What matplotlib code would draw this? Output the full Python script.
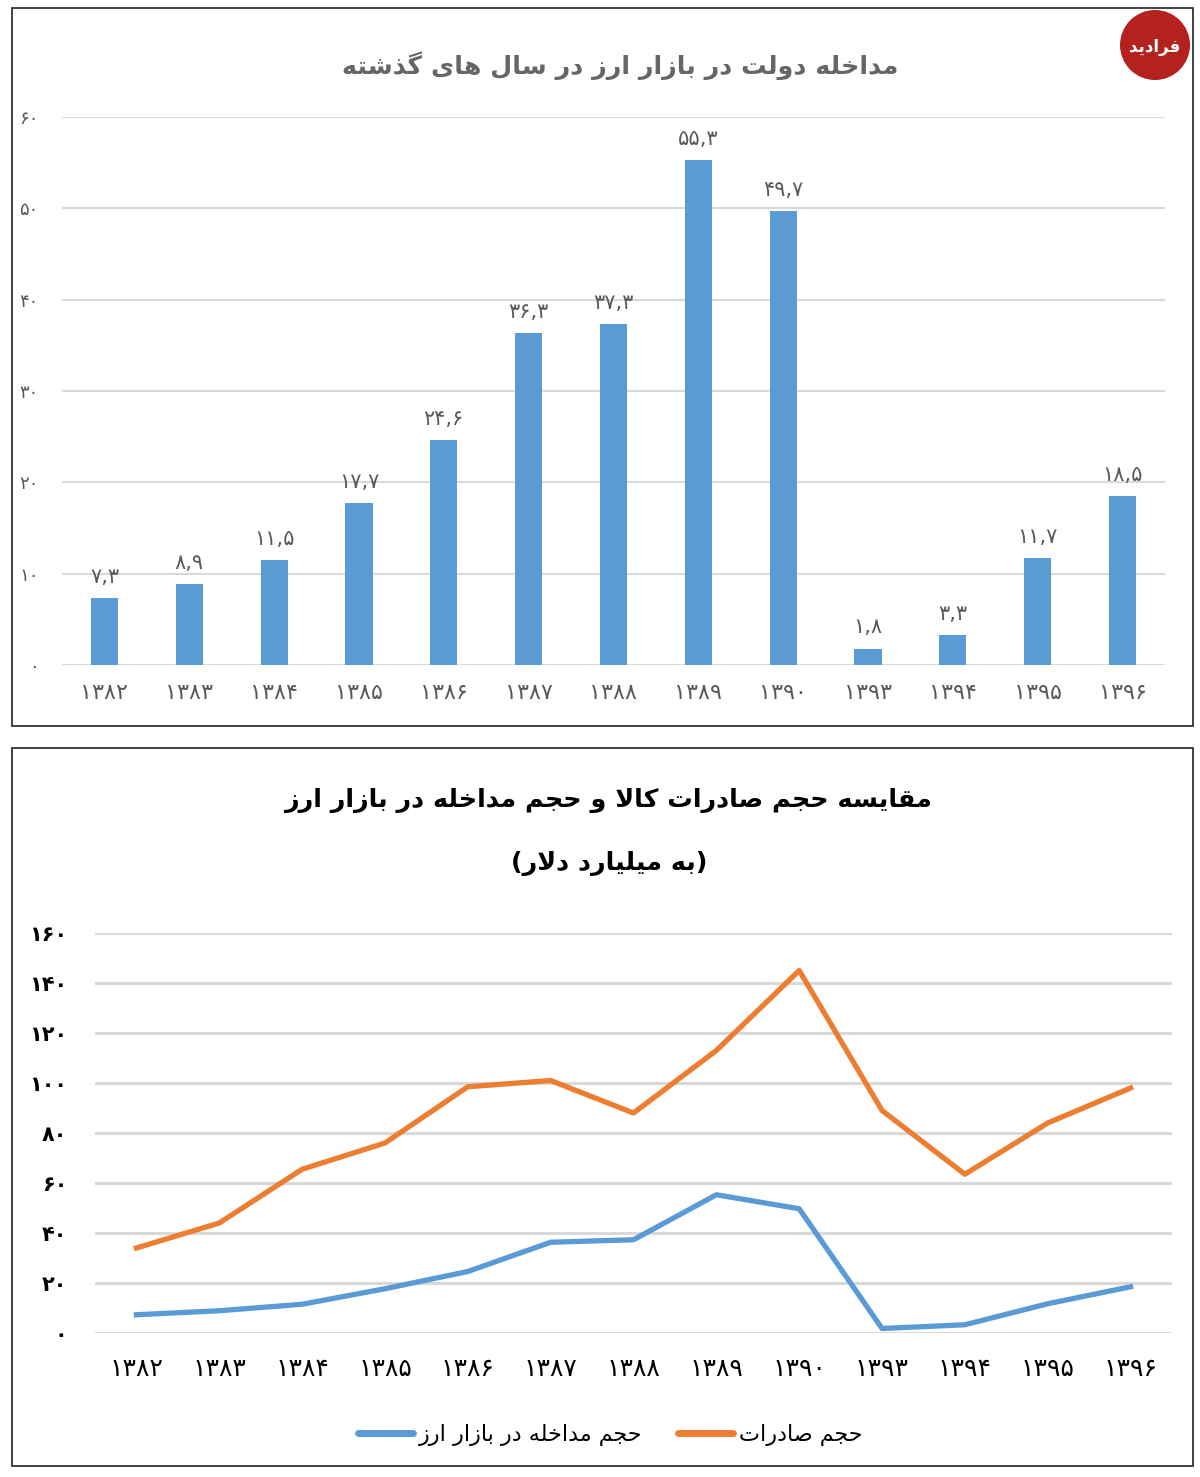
import matplotlib
matplotlib.use("Agg")
import matplotlib.pyplot as plt
from matplotlib.patches import Rectangle, Circle
from matplotlib.lines import Line2D

# ---------------- data ----------------
years = [1382, 1383, 1384, 1385, 1386, 1387, 1388, 1389, 1390, 1393, 1394, 1395, 1396]
intervention = [7.3, 8.9, 11.5, 17.7, 24.6, 36.3, 37.3, 55.3, 49.7, 1.8, 3.3, 11.7, 18.5]
exports = [34, 44, 65.5, 76, 98.5, 101, 88, 113, 145, 89, 63.5, 84, 98]
bar_yticks = [0, 10, 20, 30, 40, 50, 60]
line_yticks = [0, 20, 40, 60, 80, 100, 120, 140, 160]

title1 = "مداخله دولت در بازار ارز در سال های گذشته"
title2 = "مقایسه حجم صادرات کالا و حجم مداخله در بازار ارز"
subtitle2 = "(به میلیارد دلار)"
legend_interv = "حجم مداخله در بازار ارز"
legend_exports = "حجم صادرات"
logo_text = "فرادید"

BLUE = "#5B9BD5"
ORANGE = "#ED7D31"
GRID = "#d9d9d9"
GRAY = "#595959"

# ---------------- simple Arabic/Persian shaping ----------------
# (isolated, final, initial, medial)
FORMS = {
    "\u0627": ("\uFE8D", "\uFE8E", None, None),
    "\u0622": ("\uFE81", "\uFE82", None, None),
    "\u0628": ("\uFE8F", "\uFE90", "\uFE91", "\uFE92"),
    "\u062A": ("\uFE95", "\uFE96", "\uFE97", "\uFE98"),
    "\u062B": ("\uFE99", "\uFE9A", "\uFE9B", "\uFE9C"),
    "\u062C": ("\uFE9D", "\uFE9E", "\uFE9F", "\uFEA0"),
    "\u062D": ("\uFEA1", "\uFEA2", "\uFEA3", "\uFEA4"),
    "\u062E": ("\uFEA5", "\uFEA6", "\uFEA7", "\uFEA8"),
    "\u062F": ("\uFEA9", "\uFEAA", None, None),
    "\u0630": ("\uFEAB", "\uFEAC", None, None),
    "\u0631": ("\uFEAD", "\uFEAE", None, None),
    "\u0632": ("\uFEAF", "\uFEB0", None, None),
    "\u0633": ("\uFEB1", "\uFEB2", "\uFEB3", "\uFEB4"),
    "\u0634": ("\uFEB5", "\uFEB6", "\uFEB7", "\uFEB8"),
    "\u0635": ("\uFEB9", "\uFEBA", "\uFEBB", "\uFEBC"),
    "\u0636": ("\uFEBD", "\uFEBE", "\uFEBF", "\uFEC0"),
    "\u0637": ("\uFEC1", "\uFEC2", "\uFEC3", "\uFEC4"),
    "\u0638": ("\uFEC5", "\uFEC6", "\uFEC7", "\uFEC8"),
    "\u0639": ("\uFEC9", "\uFECA", "\uFECB", "\uFECC"),
    "\u063A": ("\uFECD", "\uFECE", "\uFECF", "\uFED0"),
    "\u0641": ("\uFED1", "\uFED2", "\uFED3", "\uFED4"),
    "\u0642": ("\uFED5", "\uFED6", "\uFED7", "\uFED8"),
    "\u0643": ("\uFED9", "\uFEDA", "\uFEDB", "\uFEDC"),
    "\u0644": ("\uFEDD", "\uFEDE", "\uFEDF", "\uFEE0"),
    "\u0645": ("\uFEE1", "\uFEE2", "\uFEE3", "\uFEE4"),
    "\u0646": ("\uFEE5", "\uFEE6", "\uFEE7", "\uFEE8"),
    "\u0647": ("\uFEE9", "\uFEEA", "\uFEEB", "\uFEEC"),
    "\u0648": ("\uFEED", "\uFEEE", None, None),
    "\u064A": ("\uFEF1", "\uFEF2", "\uFEF3", "\uFEF4"),
    "\u067E": ("\uFB56", "\uFB57", "\uFB58", "\uFB59"),
    "\u0686": ("\uFB7A", "\uFB7B", "\uFB7C", "\uFB7D"),
    "\u0698": ("\uFB8A", "\uFB8B", None, None),
    "\u06A9": ("\uFB8E", "\uFB8F", "\uFB90", "\uFB91"),
    "\u06AF": ("\uFB92", "\uFB93", "\uFB94", "\uFB95"),
    "\u06CC": ("\uFBFC", "\uFBFD", "\uFBFE", "\uFBFF"),
}


def _dual(c):
    return c in FORMS and FORMS[c][2] is not None


def rtl(text):
    ch = list(text)
    n = len(ch)
    out = []
    i = 0
    while i < n:
        c = ch[i]
        if c not in FORMS:
            out.append(c)
            i += 1
            continue
        jp = i > 0 and _dual(ch[i - 1])
        if c == "\u0644" and i + 1 < n and ch[i + 1] in ("\u0627", "\u0622"):
            if ch[i + 1] == "\u0627":
                out.append("\uFEFC" if jp else "\uFEFB")
            else:
                out.append("\uFEF6" if jp else "\uFEF5")
            i += 2
            continue
        jn = _dual(c) and i + 1 < n and ch[i + 1] in FORMS
        iso, fin, ini, med = FORMS[c]
        if jp and jn:
            out.append(med)
        elif jp:
            out.append(fin)
        elif jn:
            out.append(ini)
        else:
            out.append(iso)
        i += 1
    s = "".join(out)[::-1]
    return s.translate(str.maketrans("()", ")("))


def fa(v):
    s = str(v)
    if s.endswith(".0"):
        s = s[:-2]
    return s.translate(str.maketrans("0123456789.", "۰۱۲۳۴۵۶۷۸۹,"))


plt.rcParams["font.family"] = ["DejaVu Sans"]

W, H = 1200, 1477
fig = plt.figure(figsize=(W / 100, H / 100), dpi=100)
fig.patch.set_facecolor("white")


def fax(x0, y0, x1, y1):
    return [x0 / W, 1 - y1 / H, (x1 - x0) / W, (y1 - y0) / H]


# background overlay for panel frames and logo
bg = fig.add_axes([0, 0, 1, 1], zorder=0)
bg.set_xlim(0, W)
bg.set_ylim(H, 0)
bg.axis("off")
bg.add_patch(Rectangle((12, 8), 1181, 718, fill=False, ec="#222222", lw=1.2))
bg.add_patch(Rectangle((12, 748), 1181, 718, fill=False, ec="#222222", lw=1.2))
bg.add_patch(Circle((1155, 45), 35, fc="#b3221c", ec="none"))
bg.text(1155, 47, rtl(logo_text), color="white", fontsize=12, fontweight="bold",
        ha="center", va="center", rotation=0)

x = list(range(len(years)))
xlabels = [fa(y) for y in years]

# ---------------- panel 1: bar chart ----------------
ax1 = fig.add_axes(fax(62, 117, 1165, 665), zorder=1)
ax1.patch.set_alpha(0)
bars = ax1.bar(x, intervention, width=0.32, color=BLUE, zorder=3)
ax1.set_xlim(-0.5, len(years) - 0.5)
ax1.set_ylim(0, 60)
ax1.set_yticks(bar_yticks)
ax1.set_yticklabels([fa(v) for v in bar_yticks], color=GRAY, fontsize=13)
ax1.set_xticks(x)
ax1.set_xticklabels(xlabels, color=GRAY, fontsize=16)
ax1.tick_params(axis="both", length=0)
ax1.tick_params(axis="y", pad=17)
ax1.tick_params(axis="x", pad=13)
ax1.grid(axis="y", color=GRID, lw=1.5, zorder=0)
ax1.set_axisbelow(True)
for s in ax1.spines.values():
    s.set_visible(False)
ax1.bar_label(bars, labels=[fa(v) for v in intervention], padding=8,
              color=GRAY, fontsize=15)
fig.text(620 / W, 1 - 66 / H, rtl(title1), ha="center", va="center",
         fontsize=18.3, fontweight="bold", color="#666666")

# ---------------- panel 2: line chart ----------------
ax2 = fig.add_axes(fax(95, 933, 1172, 1333), zorder=1)
ax2.patch.set_alpha(0)
ax2.plot(x, intervention, color=BLUE, lw=3.8, solid_joinstyle="round", zorder=3)
ax2.plot(x, exports, color=ORANGE, lw=3.8, solid_joinstyle="round", zorder=3)
ax2.set_xlim(-0.5, len(years) - 0.5)
ax2.set_ylim(0, 160)
ax2.set_yticks(line_yticks)
ax2.set_yticklabels([fa(v) for v in line_yticks], color="black", fontsize=15,
                    fontweight="bold")
ax2.set_xticks(x)
ax2.set_xticklabels(xlabels, color="black", fontsize=18)
ax2.tick_params(axis="both", length=0)
ax2.tick_params(axis="y", pad=20)
ax2.tick_params(axis="x", pad=17)
ax2.grid(axis="y", color=GRID, lw=2.2, zorder=0)
ax2.set_axisbelow(True)
for s in ax2.spines.values():
    s.set_visible(False)

fig.text(608 / W, 1 - 800 / H, rtl(title2), ha="center", va="center",
         fontsize=18.3, fontweight="bold", color="black")
fig.text(609 / W, 1 - 864 / H, rtl(subtitle2), ha="center", va="center",
         fontsize=18.3, fontweight="bold", color="black")

handles = [
    Line2D([], [], color=BLUE, lw=5, solid_capstyle="round"),
    Line2D([], [], color=ORANGE, lw=5, solid_capstyle="round"),
]
fig.legend(handles, [rtl(legend_interv), rtl(legend_exports)],
           loc="center", bbox_to_anchor=(610 / W, 1 - 1435 / H), ncol=2,
           frameon=False, fontsize=16, handlelength=2.5, handletextpad=0.25,
           columnspacing=1.6)

fig.savefig("out.png", dpi=100, facecolor="white")
